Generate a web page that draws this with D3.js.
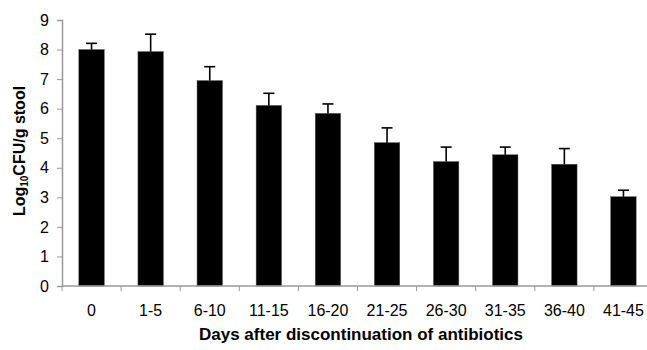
<!DOCTYPE html>
<html>
<head>
<meta charset="utf-8">
<script src="https://cdn.jsdelivr.net/npm/d3@7"></script>
<style>
  body { margin: 0; background: #fff; }
  svg { display: block; font-family: "Liberation Sans", Arial, sans-serif; }
</style>
</head>
<body>
<div id="chart"></div>
<script>
// values
const groups = ["0", "1-5", "6-10", "11-15", "16-20", "21-25", "26-30", "31-35", "36-40", "41-45"];
const means = [8.0, 7.93, 6.95, 6.11, 5.84, 4.85, 4.21, 4.44, 4.12, 3.02];
const upperErr = [0.21, 0.59, 0.47, 0.41, 0.32, 0.5, 0.49, 0.26, 0.53, 0.22];
const yTicks = [0, 1, 2, 3, 4, 5, 6, 7, 8, 9];

const width = 647, height = 350;
const margin = { left: 62, top: 20, bottom: 64 };

const svg = d3.select("#chart").append("svg")
  .attr("width", width)
  .attr("height", height);

// the plot runs a bit past the right edge of the picture
const x = d3.scaleBand()
  .domain(groups)
  .range([margin.left, 653])
  .paddingInner(0.57)
  .paddingOuter(0.285);

const y = d3.scaleLinear()
  .domain([0, 9])
  .range([height - margin.bottom, margin.top]);

// bars
svg.selectAll(".bar")
  .data(groups)
  .enter()
  .append("rect")
  .attr("class", "bar")
  .attr("x", (d) => x(d))
  .attr("y", (d, i) => y(means[i]))
  .attr("width", x.bandwidth())
  .attr("height", (d, i) => y(0) - y(means[i]))
  .attr("fill", "#000")
  .attr("stroke", "#555")
  .attr("stroke-width", 0.5);

// error bars (upper only)
const err = svg.selectAll(".err")
  .data(groups)
  .enter()
  .append("g")
  .attr("class", "err")
  .attr("stroke", "#000")
  .attr("stroke-width", 1.6);

err.append("line")
  .attr("x1", (d) => x(d) + x.bandwidth() / 2)
  .attr("x2", (d) => x(d) + x.bandwidth() / 2)
  .attr("y1", (d, i) => y(means[i]))
  .attr("y2", (d, i) => y(means[i] + upperErr[i]));

err.append("line")
  .attr("x1", (d) => x(d) + x.bandwidth() / 2 - 5.5)
  .attr("x2", (d) => x(d) + x.bandwidth() / 2 + 5.5)
  .attr("y1", (d, i) => y(means[i] + upperErr[i]))
  .attr("y2", (d, i) => y(means[i] + upperErr[i]));

// y axis
const yAxis = svg.append("g")
  .attr("transform", `translate(${margin.left},0)`)
  .call(d3.axisLeft(y).tickValues(yTicks).tickSize(5).tickPadding(8).tickFormat(d3.format("d")));

// x axis: ticks sit on the category boundaries
const step = x.step();
const bounds = d3.range(groups.length + 1).map((i) => margin.left + i * step);

const xAxis = svg.append("g")
  .attr("transform", `translate(0,${y(0)})`);

xAxis.append("line")
  .attr("x1", margin.left)
  .attr("x2", 653)
  .attr("stroke", "#999")
  .attr("stroke-width", 1.5);

xAxis.selectAll(".xt")
  .data(bounds)
  .enter()
  .append("line")
  .attr("class", "xt")
  .attr("x1", (d) => d)
  .attr("x2", (d) => d)
  .attr("y1", 0)
  .attr("y2", 5)
  .attr("stroke", "#999")
  .attr("stroke-width", 1);

xAxis.selectAll(".xl")
  .data(groups)
  .enter()
  .append("text")
  .attr("class", "xl")
  .attr("x", (d) => x(d) + x.bandwidth() / 2)
  .attr("y", 30)
  .attr("text-anchor", "middle")
  .attr("font-size", 16)
  .attr("fill", "#000")
  .text((d) => d);

yAxis.select(".domain").attr("stroke", "#999").attr("stroke-width", 1.5);
yAxis.selectAll(".tick line").attr("stroke", "#999");
yAxis.selectAll(".tick text")
  .attr("font-size", 16)
  .attr("fill", "#000")
  .style("font-family", "Liberation Sans, Arial, sans-serif");

// axis titles
const yTitle = svg.append("text")
  .attr("transform", "translate(25,151) rotate(-90)")
  .attr("text-anchor", "middle")
  .attr("font-size", 16)
  .attr("font-weight", "bold");
yTitle.append("tspan").text("Log");
yTitle.append("tspan").attr("font-size", 10).attr("dy", 3).text("10");
yTitle.append("tspan").attr("dy", -3).text("CFU/g stool");

svg.append("text")
  .attr("x", 361)
  .attr("y", 340)
  .attr("text-anchor", "middle")
  .attr("font-size", 17)
  .attr("font-weight", "bold")
  .text("Days after discontinuation of antibiotics");
</script>
</body>
</html>
